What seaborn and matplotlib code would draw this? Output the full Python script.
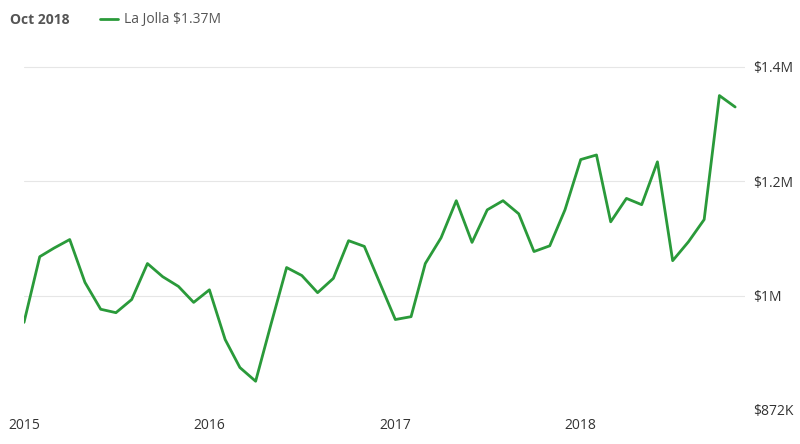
import matplotlib
matplotlib.use("Agg")
import matplotlib.pyplot as plt
import seaborn as sns
import pandas as pd
import numpy as np
from matplotlib.lines import Line2D

months = pd.date_range("2015-01-01", "2018-11-01", freq="MS")
values = [0.953, 1.068, 1.083, 1.098, 1.023, 0.976, 0.970, 0.993, 1.056, 1.033, 1.016, 0.988,
          1.010, 0.923, 0.874, 0.850, 0.949, 1.049, 1.035, 1.005, 1.030, 1.096, 1.086, 1.023,
          0.958, 0.963, 1.056, 1.101, 1.166, 1.093, 1.150, 1.166, 1.143, 1.077, 1.087, 1.150,
          1.238, 1.246, 1.129, 1.170, 1.159, 1.234, 1.061, 1.094, 1.133, 1.350, 1.330]
ytick_vals = [0.8, 1.0, 1.2, 1.4]
ytick_labels = ["$872K", "$1M", "$1.2M", "$1.4M"]
xtick_labels = ["2015", "2016", "2017", "2018"]

df = pd.DataFrame({"date": months, "value": values})
sns.set_theme(style="white")
plt.rcParams['font.family'] = ['Open Sans', 'DejaVu Sans']
fig = plt.figure(figsize=(8, 4.44), dpi=100)
ax = fig.add_axes([0.03, 0.077, 0.901, 0.85])
green = "#2a9a3a"
sns.lineplot(data=df, x="date", y="value", ax=ax, color=green, linewidth=2)
ax.set_xlim(pd.Timestamp("2015-01-01"), pd.Timestamp("2018-11-20"))
ax.set_ylim(0.8, 1.4605)
ax.yaxis.tick_right()
ax.set_yticks(ytick_vals)
ax.set_yticklabels(ytick_labels, fontsize=10, color="#333333")
ax.set_xticks([pd.Timestamp(f"{y}-01-01") for y in xtick_labels])
ax.set_xticklabels(xtick_labels, fontsize=10, color="#333333")
ax.tick_params(length=0, pad=6)
for v in ytick_vals[1:]:
    ax.axhline(v, color="#e6e6e6", linewidth=0.8, zorder=0)
for s in ax.spines.values():
    s.set_visible(False)
ax.set_xlabel(""); ax.set_ylabel("")
fig.text(0.012, 0.955, "Oct 2018", fontsize=10, fontweight="bold", color="#555555", va="center")
fig.add_artist(Line2D([0.125, 0.148], [0.958, 0.958], color=green, linewidth=2))
fig.text(0.155, 0.955, "La Jolla $1.37M", fontsize=10, color="#555555", va="center")
fig.savefig("out.png", dpi=100)
